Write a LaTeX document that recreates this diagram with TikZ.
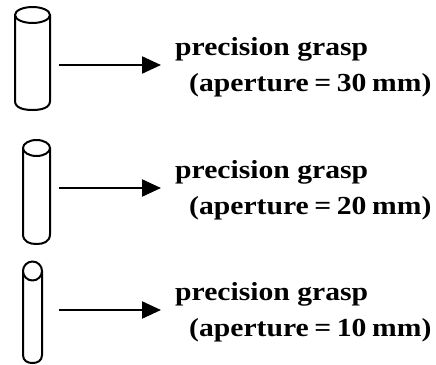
\documentclass[tikz,border=0pt]{standalone}
\usepackage{fontspec}
\setmainfont[FakeStretch=1.14]{Liberation Serif}
\usetikzlibrary{arrows.meta}
\tikzset{
  x=1pt,y=-1pt,
  cyl/.style={draw=black,line width=2pt,fill=white,line join=round},
  conn/.style={draw=black,line width=2.2pt,-{Triangle[length=19pt,width=17pt]}},
  lab/.style={anchor=base west,inner sep=0pt,font=\bfseries\fontsize{26}{28}\selectfont},
}
\newcommand{\tightwords}{\spaceskip=5.6pt\relax}
\newcommand{\cylinder}[6]{% left right topcentre ry straightend bottom
  \pgfmathsetmacro{\cxx}{(#1+#2)/2}
  \pgfmathsetmacro{\rxx}{(#2-#1)/2}
  \draw[cyl] (#1,#3) -- (#1,#5) .. controls (#1,#6-2) and (\cxx-\rxx*0.5,#6) .. (\cxx,#6)
     .. controls (\cxx+\rxx*0.5,#6) and (#2,#6-2) .. (#2,#5) -- (#2,#3);
  \draw[cyl] (\cxx,#3) ellipse [x radius=\rxx, y radius=#4];
}
\begin{document}
\begin{tikzpicture}
\useasboundingbox (0,0) rectangle (436,364);
\cylinder{15}{50}{15}{8}{101}{110}
\cylinder{23}{50}{148}{8}{234}{244}
\cylinder{23}{42}{271}{9.5}{355}{363}
\coordinate (s1) at (59,65);  \coordinate (t1) at (161,65);
\coordinate (s2) at (59,188); \coordinate (t2) at (161,188);
\coordinate (s3) at (59,310); \coordinate (t3) at (161,310);
\draw[conn] (s1) -- (t1);
\draw[conn] (s2) -- (t2);
\draw[conn] (s3) -- (t3);
\node[lab] (a1) at (175,55) {precision grasp};
\node[lab] (b1) at (189,91) {\tightwords (aperture = 30 mm)};
\node[lab] (a2) at (175,178) {precision grasp};
\node[lab] (b2) at (189,214) {\tightwords (aperture = 20 mm)};
\node[lab] (a3) at (175,300) {precision grasp};
\node[lab] (b3) at (189,336) {\tightwords (aperture = 10 mm)};
\end{tikzpicture}
\end{document}
